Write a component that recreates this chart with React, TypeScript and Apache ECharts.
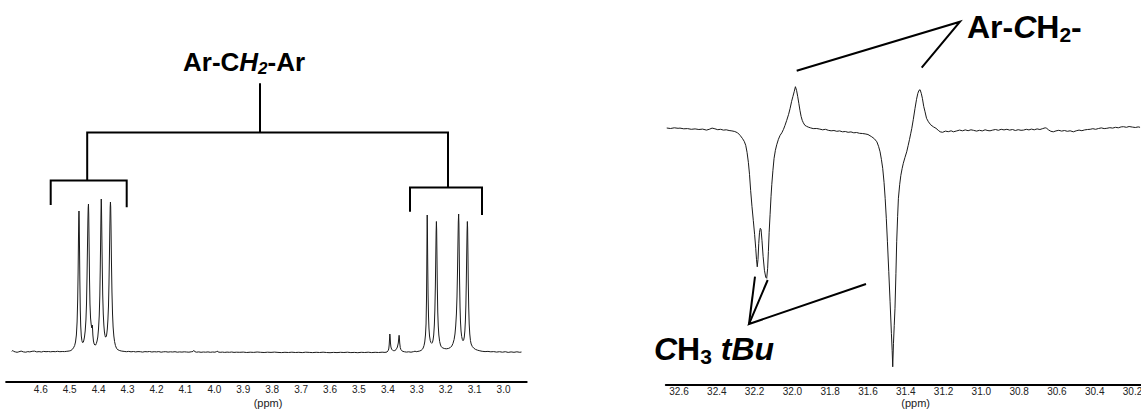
import React, { useEffect, useRef } from "react";
import * as echarts from "echarts";

// ---------- data ----------
const protonTicks = [4.6, 4.5, 4.4, 4.3, 4.2, 4.1, 4.0, 3.9, 3.8, 3.7, 3.6, 3.5, 3.4, 3.3, 3.2, 3.1, 3.0];
const carbonTicks = [32.6, 32.4, 32.2, 32.0, 31.8, 31.6, 31.4, 31.2, 31.0, 30.8, 30.6, 30.4, 30.2];

// 1H spectrum: [ppm, intensity]
const protonSpectrum: [number, number][] = [
  [4.700, 0.5], [4.697, 1.6], [4.694, 0.6], [4.688, 0.1], [4.682, -0.3], [4.676, 0.2], [4.668, 0.9], [4.660, 0.1],
  [4.652, -0.2], [4.645, 0.4], [4.638, 0.1], [4.630, 0.7], [4.622, 0.9], [4.614, 0.1], [4.606, 0.4], [4.598, 0.0],
  [4.590, 0.6], [4.582, 0.3], [4.574, 0.5], [4.566, 0.2], [4.558, 0.5], [4.550, 0.3], [4.542, 0.7], [4.534, 0.3],
  [4.526, 0.5], [4.518, 0.4], [4.510, 0.7], [4.502, 1.0], [4.496, 1.5], [4.491, 2.6], [4.487, 4.2], [4.483, 6.5],
  [4.480, 10], [4.477, 17], [4.4745, 30], [4.4725, 52], [4.471, 80], [4.4698, 112], [4.4688, 134], [4.468, 141],
  [4.4672, 132], [4.4662, 105], [4.465, 72], [4.4635, 42], [4.462, 26], [4.460, 16], [4.458, 11.5], [4.456, 9.5],
  [4.4545, 9], [4.453, 9.8], [4.451, 12], [4.449, 15], [4.4465, 21], [4.444, 32], [4.442, 48], [4.4402, 75],
  [4.4385, 108], [4.4372, 132], [4.4362, 144], [4.4352, 148], [4.4343, 138], [4.433, 108], [4.4315, 72], [4.430, 48],
  [4.428, 34], [4.426, 28], [4.4245, 25], [4.4232, 24], [4.4222, 27], [4.4212, 24], [4.420, 17], [4.418, 11],
  [4.4155, 8], [4.413, 7], [4.4105, 7], [4.408, 8.5], [4.4055, 11], [4.403, 15], [4.4005, 23], [4.398, 36],
  [4.396, 56], [4.3945, 82], [4.393, 115], [4.3918, 142], [4.391, 153], [4.3902, 145], [4.389, 118], [4.3875, 85],
  [4.386, 58], [4.384, 38], [4.382, 27], [4.380, 20], [4.378, 16.5], [4.3765, 15], [4.375, 14.5], [4.3735, 15.5],
  [4.372, 18], [4.370, 23], [4.368, 32], [4.366, 46], [4.3643, 68], [4.3628, 95], [4.3613, 125], [4.3601, 145],
  [4.3592, 150], [4.3583, 145], [4.3572, 125], [4.3558, 92], [4.354, 60], [4.352, 38], [4.350, 25], [4.3475, 16],
  [4.345, 10.5], [4.342, 6.5], [4.338, 3.5], [4.333, 2.2], [4.327, 1.4], [4.320, 0.9], [4.312, 0.6], [4.304, 0.3],
  [4.296, 0.6], [4.288, 0.2], [4.280, 0.5], [4.272, 0.1], [4.264, 0.4], [4.256, 0.3], [4.248, -0.1], [4.240, 0.4],
  [4.232, 0.2], [4.224, 0.5], [4.216, 0.0], [4.208, 0.3], [4.200, 0.1], [4.192, 0.4], [4.184, -0.2], [4.176, 0.2],
  [4.168, 0.3], [4.160, -0.1], [4.152, 0.2], [4.144, 0.0], [4.136, 0.3], [4.128, -0.2], [4.120, 0.1], [4.112, -0.1],
  [4.104, 0.2], [4.096, 0.0], [4.088, -0.2], [4.080, 0.2], [4.074, 0.5], [4.071, 1.6], [4.068, 0.4], [4.062, -0.2],
  [4.054, 0.1], [4.046, -0.3], [4.038, 0.0], [4.030, -0.2], [4.022, 0.1], [4.014, -0.3], [4.006, 0.0], [3.998, -0.2],
  [3.993, 0.3], [3.990, 1.0], [3.987, 0.0], [3.980, -0.3], [3.972, -0.1], [3.964, -0.4], [3.956, -0.1], [3.948, -0.3],
  [3.940, 0.0], [3.932, -0.4], [3.924, -0.2], [3.912, -0.3], [3.900, -0.1], [3.888, -0.5], [3.876, -0.2], [3.864, -0.4],
  [3.852, 0.0], [3.840, -0.3], [3.828, -0.5], [3.816, -0.2], [3.804, -0.4], [3.792, -0.1], [3.780, -0.4], [3.768, -0.6],
  [3.756, -0.3], [3.744, -0.5], [3.732, -0.2], [3.720, -0.5], [3.708, -0.3], [3.696, -0.6], [3.684, -0.2], [3.672, -0.4],
  [3.660, -0.6], [3.648, -0.3], [3.636, -0.5], [3.624, -0.2], [3.612, -0.5], [3.600, -0.7], [3.588, -0.4], [3.576, -0.6],
  [3.564, -0.3], [3.552, -0.5], [3.540, -0.2], [3.528, -0.6], [3.516, -0.4], [3.504, -0.7], [3.492, -0.3], [3.480, -0.5],
  [3.468, -0.2], [3.456, -0.6], [3.444, -0.3], [3.432, -0.5], [3.420, -0.2], [3.410, -0.4], [3.403, 0.0], [3.3995, 1.2],
  [3.397, 3], [3.3955, 7], [3.3942, 13], [3.3932, 18], [3.3922, 15], [3.391, 9], [3.3895, 5], [3.387, 2.8],
  [3.384, 1.8], [3.381, 1.4], [3.378, 1.3], [3.375, 1.6], [3.372, 2.3], [3.369, 3.8], [3.367, 5], [3.364, 9],
  [3.3622, 14], [3.3612, 16.7], [3.3602, 14], [3.359, 9], [3.3572, 4.5], [3.355, 2.5], [3.352, 1.3], [3.348, 0.6],
  [3.342, 0.2], [3.336, -0.1], [3.328, 0.2], [3.320, -0.2], [3.312, 0.3], [3.306, 0.8], [3.302, 0.3], [3.296, 0.6],
  [3.290, 1.0], [3.285, 1.6], [3.281, 2.6], [3.278, 4], [3.275, 6.5], [3.2725, 10], [3.270, 17], [3.268, 28],
  [3.2665, 52], [3.2655, 82], [3.2648, 112], [3.2640, 137], [3.2632, 120], [3.2622, 88], [3.261, 58], [3.2595, 36],
  [3.258, 24], [3.256, 16], [3.2535, 11.5], [3.251, 9.5], [3.2485, 8.7], [3.246, 9.5], [3.2438, 12], [3.2415, 17],
  [3.2393, 27], [3.2375, 42], [3.2358, 66], [3.2344, 95], [3.2332, 120], [3.2322, 130.5], [3.2313, 122], [3.2302, 95],
  [3.229, 64], [3.2275, 40], [3.2258, 26], [3.2238, 17], [3.221, 10.5], [3.218, 7], [3.215, 5.2], [3.212, 4.3],
  [3.205, 3.5], [3.198, 3.2], [3.190, 3.6], [3.184, 4.5], [3.179, 6], [3.175, 8.5], [3.171, 12.5], [3.168, 18],
  [3.1655, 26], [3.163, 38], [3.161, 55], [3.1593, 80], [3.1578, 108], [3.1565, 130], [3.1553, 138], [3.1544, 128],
  [3.1533, 100], [3.152, 70], [3.1505, 45], [3.149, 31], [3.147, 21], [3.1448, 15.5], [3.1425, 12.5], [3.1402, 11.3],
  [3.138, 12], [3.1358, 15], [3.1338, 21], [3.132, 31], [3.1303, 47], [3.1288, 70], [3.1274, 98], [3.1262, 120],
  [3.1252, 130.5], [3.1243, 124], [3.1232, 100], [3.122, 70], [3.1205, 45], [3.1188, 28], [3.1168, 18], [3.1145, 11.5],
  [3.112, 8], [3.108, 5.5], [3.103, 3.8], [3.097, 2.6], [3.090, 1.8], [3.082, 1.2], [3.074, 0.7], [3.064, 0.4],
  [3.054, 0.6], [3.044, 0.2], [3.034, 0.4], [3.024, -0.1], [3.014, 0.3], [3.004, -0.2], [2.994, 0.3], [2.984, -0.4],
  [2.974, 0.1], [2.964, -0.3], [2.954, 0.2], [2.944, -0.3], [2.938, 0.0],
];

// 13C (DEPT) spectrum: [ppm, intensity]
const carbonSpectrum: [number, number][] = [
  [32.665, 0.3], [32.645, -0.2], [32.625, 0.5], [32.605, 0.0], [32.595, 0.2], [32.575, -0.5], [32.555, -0.3], [32.535, -1.0],
  [32.515, -0.6], [32.495, -1.2], [32.475, -0.8], [32.455, -1.8], [32.440, -1.0], [32.425, 0.2], [32.410, -0.5], [32.395, -1.4],
  [32.380, -1.0], [32.365, -1.8], [32.350, -1.5], [32.335, -2.2], [32.320, -2.6], [32.305, -3.2], [32.290, -4.5], [32.277, -7],
  [32.265, -10], [32.255, -13], [32.247, -17], [32.240, -24], [32.233, -34], [32.227, -46], [32.221, -62], [32.214, -78],
  [32.207, -92], [32.200, -106], [32.194, -120], [32.190, -131], [32.186, -138.5], [32.182, -131], [32.178, -115], [32.174, -104],
  [32.170, -100], [32.166, -101], [32.161, -112], [32.155, -128], [32.148, -142], [32.141, -149], [32.136, -150], [32.131, -140],
  [32.127, -123], [32.123, -104], [32.118, -86], [32.113, -68], [32.109, -56], [32.103, -42], [32.097, -30], [32.090, -22],
  [32.083, -16.5], [32.074, -11], [32.065, -7], [32.056, -4.5], [32.047, -1], [32.039, 3], [32.030, 8], [32.020, 14],
  [32.012, 20], [32.004, 27], [31.997, 32], [31.990, 37], [31.984, 41.6], [31.978, 38], [31.972, 32], [31.966, 25],
  [31.960, 18], [31.954, 12], [31.948, 8], [31.942, 5.5], [31.934, 3], [31.925, 2], [31.916, 1.2], [31.905, 0.5],
  [31.890, -0.3], [31.871, -0.2], [31.855, -0.8], [31.840, -1.5], [31.825, -1.0], [31.810, -2.0], [31.795, -2.5], [31.780, -2.2],
  [31.765, -3.0], [31.750, -2.6], [31.735, -3.5], [31.720, -3.2], [31.705, -4.0], [31.690, -3.6], [31.675, -4.5], [31.660, -4.2],
  [31.645, -5.0], [31.630, -5.2], [31.615, -5.6], [31.600, -6.2], [31.580, -8.5], [31.566, -10.5], [31.553, -13.5], [31.544, -18],
  [31.536, -23.5], [31.529, -31], [31.522, -40], [31.515, -54], [31.509, -70], [31.503, -90], [31.497, -113.5], [31.490, -143],
  [31.483, -173.5], [31.476, -205], [31.472, -222], [31.469, -238.5], [31.465, -215], [31.461, -197], [31.457, -180], [31.452, -145],
  [31.448, -113.5], [31.443, -88], [31.439, -70], [31.432, -56], [31.426, -47], [31.419, -40], [31.413, -35], [31.404, -29],
  [31.395, -23.5], [31.387, -17], [31.380, -11], [31.374, -5.5], [31.368, 0], [31.360, 9], [31.351, 20], [31.343, 29],
  [31.336, 35], [31.330, 38], [31.324, 38.5], [31.318, 35], [31.312, 30], [31.305, 22], [31.298, 16.5], [31.290, 10],
  [31.280, 6.5], [31.268, 3.5], [31.254, 1.5], [31.240, 0.0], [31.228, -2.0], [31.218, -3.5], [31.205, -4.0], [31.190, -2.8],
  [31.175, -3.4], [31.160, -2.5], [31.148, -3.5], [31.130, -2.6], [31.115, -1.8], [31.100, -2.5], [31.085, -1.6], [31.070, -2.4],
  [31.055, -1.5], [31.042, -2.0], [31.025, -2.8], [31.010, -2.0], [30.995, -2.6], [30.980, -1.5], [30.965, -2.3], [30.954, -2.5],
  [30.940, -1.8], [30.925, -1.2], [30.910, -2.0], [30.895, -1.0], [30.880, -1.6], [30.865, -1.0], [30.850, -1.8], [30.835, -1.2],
  [30.820, -2.2], [30.805, -1.4], [30.790, -2.0], [30.777, -1.8], [30.762, -1.0], [30.748, -1.6], [30.735, -0.8], [30.720, -1.5],
  [30.705, -0.6], [30.690, -1.2], [30.675, -0.3], [30.662, 0.5], [30.654, 0.0], [30.645, -1.5], [30.632, -3.0], [30.619, -3.5],
  [30.605, -2.6], [30.590, -2.0], [30.575, -2.8], [30.560, -2.2], [30.545, -3.0], [30.530, -2.5], [30.513, -3.5], [30.498, -2.5],
  [30.483, -1.8], [30.468, -2.4], [30.453, -1.6], [30.438, -1.2], [30.424, -1.0], [30.410, -0.4], [30.395, -1.0], [30.380, -0.2],
  [30.365, 0.4], [30.350, -0.3], [30.336, 0.0], [30.320, 0.6], [30.305, 0.2], [30.290, 1.0], [30.275, 0.5], [30.260, 1.4],
  [30.248, 1.6], [30.232, 1.0], [30.218, 1.8], [30.200, 1.2], [30.185, 0.8], [30.170, 1.4], [30.160, 1.0],
];

const axisUnit = "(ppm)";
const FONT = "'Liberation Sans', Arial, Helvetica, sans-serif";

export default function App() {
  const ref = useRef<HTMLDivElement>(null);

  useEffect(() => {
    if (!ref.current) return;
    const chart = echarts.init(ref.current, null, { renderer: "svg" });

    const boldRich = (size: number, lh: number, italic = false) => ({
      fontSize: size,
      fontWeight: "bold",
      fontStyle: italic ? "italic" : "normal",
      fontFamily: FONT,
      fill: "#000",
      lineHeight: lh,
    });
    const subRich = (size: number, lh: number, italic = false) => ({
      ...boldRich(size, lh, italic),
      verticalAlign: "bottom",
    });

    const axisLabelCommon = {
      fontSize: 10,
      color: "#222",
      fontFamily: FONT,
      margin: 2,
      hideOverlap: false,
      formatter: (v: number) => v.toFixed(1),
    };

    const lineStroke = { stroke: "#000", lineWidth: 2, fill: "none" };

    const unitText = (x: number) => ({
      type: "text",
      x,
      y: 403,
      style: {
        text: axisUnit,
        fontSize: 11,
        fontFamily: FONT,
        fill: "#222",
        align: "center",
        verticalAlign: "middle",
        textAlign: "center",
        textVerticalAlign: "middle",
      },
    });

    const option: any = {
      animation: false,
      backgroundColor: "#fff",
      grid: [
        { left: 6.1, width: 520.6, top: 40, height: 342, outerBoundsMode: "none", containLabel: false },
        { left: 665.8, width: 475.2, top: 0, height: 384.3, outerBoundsMode: "none", containLabel: false },
      ],
      xAxis: [
        {
          gridIndex: 0,
          type: "value",
          inverse: true,
          min: 2.92,
          max: 4.72,
          axisLine: { onZero: false, lineStyle: { color: "#000", width: 2 } },
          axisTick: { show: false },
          splitLine: { show: false },
          axisLabel: { ...axisLabelCommon, customValues: protonTicks },
        },
        {
          gridIndex: 1,
          type: "value",
          inverse: true,
          min: 30.155,
          max: 32.67,
          axisLine: { onZero: false, lineStyle: { color: "#000", width: 2 } },
          axisTick: { show: false },
          splitLine: { show: false },
          axisLabel: { ...axisLabelCommon, customValues: carbonTicks },
        },
      ],
      yAxis: [
        { gridIndex: 0, type: "value", min: -30, max: 312, show: false },
        { gridIndex: 1, type: "value", min: -256, max: 128.3, show: false },
      ],
      series: [
        {
          type: "line",
          xAxisIndex: 0,
          yAxisIndex: 0,
          data: protonSpectrum,
          symbol: "none",
          silent: true,
          lineStyle: { color: "#1a1a1a", width: 1 },
        },
        {
          type: "line",
          xAxisIndex: 1,
          yAxisIndex: 1,
          data: carbonSpectrum,
          symbol: "none",
          silent: true,
          lineStyle: { color: "#1a1a1a", width: 1 },
        },
      ],
      graphic: [
        // ---- 1H annotation tree ----
        { type: "line", shape: { x1: 260, y1: 83.3, x2: 260, y2: 132.5 }, style: lineStroke },
        { type: "polyline", shape: { points: [[87.2, 180.5], [87.2, 132.5], [448, 132.5], [448, 187.5]] }, style: lineStroke },
        { type: "polyline", shape: { points: [[50.7, 205], [50.7, 180.5], [126.7, 180.5], [126.7, 207.3]] }, style: lineStroke },
        { type: "polyline", shape: { points: [[410, 211.7], [410, 187.5], [482, 187.5], [482, 215]] }, style: lineStroke },
        {
          type: "text",
          x: 183,
          y: 47,
          style: {
            text: "{a|Ar-C}{b|H}{c|2}{a|-Ar}",
            align: "left",
            verticalAlign: "top",
            textAlign: "left",
            textVerticalAlign: "top",
            rich: { a: boldRich(26, 30), b: boldRich(26, 30, true), c: subRich(17, 18, true) },
          },
        },
        // ---- 13C annotations ----
        { type: "polyline", shape: { points: [[796.7, 70.7], [960, 21.7], [921.7, 67.7]] }, style: lineStroke },
        {
          type: "text",
          x: 967,
          y: 9.2,
          style: {
            text: "{a|Ar-}{b|C}{a|H}{c|2}{a|-}",
            align: "left",
            verticalAlign: "top",
            textAlign: "left",
            textVerticalAlign: "top",
            rich: { a: boldRich(32, 36), b: boldRich(32, 36, true), c: subRich(21, 22) },
          },
        },
        { type: "line", shape: { x1: 755, y1: 276.7, x2: 749, y2: 324 }, style: lineStroke },
        { type: "polyline", shape: { points: [[767.7, 280], [749, 324], [866, 284]] }, style: lineStroke },
        {
          type: "text",
          x: 654,
          y: 331,
          style: {
            text: "{b|C}{a|H}{c|3}{a| }{b|tBu}",
            align: "left",
            verticalAlign: "top",
            textAlign: "left",
            textVerticalAlign: "top",
            rich: { a: boldRich(32, 36), b: boldRich(32, 36, true), c: subRich(21, 22) },
          },
        },
        // ---- axis unit labels ----
        unitText(268),
        unitText(915.6),
      ],
    };

    chart.setOption(option);
    return () => chart.dispose();
  }, []);

  return (
    <div
      ref={ref}
      style={{ position: "fixed", left: 0, top: 0, width: 1141, height: 415, background: "#fff" }}
    />
  );
}
